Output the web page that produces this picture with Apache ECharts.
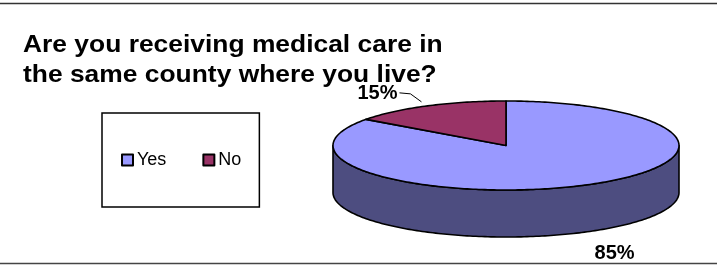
<!DOCTYPE html>
<html>
<head>
<meta charset="utf-8">
<script src="https://cdn.jsdelivr.net/npm/echarts@6/dist/echarts.min.js"></script>
<style>
  html, body { margin: 0; padding: 0; background: #fff; }
  #main { width: 717px; height: 265px; }
</style>
</head>
<body>
<div id="main"></div>
<script>
// data
var categories = ['Yes', 'No'];
var shares = [85, 15];
var topColors = ['#9999FF', '#993366'];
var sideColors = ['#4D4D80', '#4D1A33'];
var titleLines = ['Are you receiving medical care in', 'the same county where you live?'];

// 3d pie layout (flattened ellipse, excel style)
var CX = 506, CY = 145.5, RX = 173, RY = 44.5, DEPTH = 47;

var total = shares.reduce(function (a, b) { return a + b; }, 0);
var starts = [];
var acc = 0;
shares.forEach(function (v) {
  starts.push(acc / total * 360);
  acc += v;
});

function pt(theta, dy) {
  var r = theta * Math.PI / 180;
  return [CX + RX * Math.sin(r), CY - RY * Math.cos(r) + (dy || 0)];
}

function arc(a, b, dy) {
  var pts = [];
  var n = Math.max(2, Math.ceil(Math.abs(b - a)) + 1);
  for (var k = 0; k < n; k++) {
    pts.push(pt(a + (b - a) * k / (n - 1), dy));
  }
  return pts;
}

function sliceRange(i) {
  var a = starts[i];
  var b = a + shares[i] / total * 360;
  return [a, b];
}

var myChart = echarts.init(document.getElementById('main'), null, { renderer: 'canvas' });

var option = {
  backgroundColor: '#fff',
  animation: false,
  color: topColors,
  legend: {
    data: categories,
    orient: 'horizontal',
    left: 102,
    top: 113,
    padding: [38, 18, 38, 19],
    itemGap: 36,
    itemWidth: 11,
    itemHeight: 11,
    icon: 'rect',
    borderColor: '#000',
    borderWidth: 1.5,
    backgroundColor: '#fff',
    itemStyle: { borderColor: '#000', borderWidth: 2 },
    textStyle: { fontFamily: 'Liberation Sans, Arial', fontSize: 18, color: '#000', padding: [0, 0, 0, -1] }
  },
  graphic: [
    { type: 'line', shape: { x1: 0, y1: 3.5, x2: 717, y2: 3.5 }, style: { stroke: '#333', lineWidth: 1.5 } },
    { type: 'line', shape: { x1: 0, y1: 263.5, x2: 717, y2: 263.5 }, style: { stroke: '#444', lineWidth: 1.5 } },
    {
      // title, a little wider than the plain font like the original
      type: 'text',
      x: 23,
      y: 30,
      scaleX: 1.1,
      style: {
        text: titleLines.join('\n'),
        fontFamily: 'Liberation Sans, Arial',
        fontSize: 24,
        fontWeight: 'bold',
        lineHeight: 30,
        fill: '#000',
        verticalAlign: 'top'
      }
    }
  ],
  series: [
    {
      // only feeds the legend
      type: 'pie',
      name: 'legend',
      radius: [0, 0],
      center: [-50, -50],
      silent: true,
      label: { show: false },
      labelLine: { show: false },
      data: categories.map(function (c, i) { return { name: c, value: shares[i] }; })
    },
    {
      // front walls
      type: 'custom',
      name: 'side',
      coordinateSystem: 'none',
      silent: true,
      data: shares.map(function (v, i) { return [i, v]; }),
      renderItem: function (params, api) {
        var i = params.dataIndex;
        var r = sliceRange(i);
        var a = Math.max(r[0], 90), b = Math.min(r[1], 270);
        if (b <= a) return { type: 'group', children: [] };
        var pts = arc(a, b, 0).concat(arc(b, a, DEPTH));
        return {
          type: 'polygon',
          shape: { points: pts },
          style: { fill: sideColors[i], stroke: '#000', lineWidth: 1.6, lineJoin: 'round' }
        };
      }
    },
    {
      // top faces and labels
      type: 'custom',
      name: 'top',
      coordinateSystem: 'none',
      silent: true,
      data: shares.map(function (v, i) { return [i, v]; }),
      renderItem: function (params, api) {
        var i = params.dataIndex;
        var r = sliceRange(i);
        var pts = [[CX, CY]].concat(arc(r[0], r[1], 0));
        var children = [{
          type: 'polygon',
          shape: { points: pts },
          style: { fill: topColors[i], stroke: '#000', lineWidth: 1.6, lineJoin: 'round' }
        }];
        var mid = (r[0] + r[1]) / 2;
        var p = pt(mid, 0);
        var txt = Math.round(api.value(1) / total * 100) + '%';
        var font = { fontFamily: 'Liberation Sans, Arial', fontSize: 20, fontWeight: 'bold', fill: '#000' };
        if (mid > 90 && mid < 270) {
          children.push({
            type: 'text',
            style: Object.assign({ text: txt, x: p[0] + 10, y: p[1] + DEPTH + 21, align: 'left', verticalAlign: 'middle' }, font)
          });
        } else {
          var ex = p[0] - 6, ey = p[1] - 4;
          children.push({
            type: 'polyline',
            shape: { points: [[ex, ey], [ex - 11, ey - 8], [ex - 22, ey - 9]] },
            style: { stroke: '#000', lineWidth: 1, fill: null }
          });
          children.push({
            type: 'text',
            style: Object.assign({ text: txt, x: ex - 24, y: ey - 8, align: 'right', verticalAlign: 'middle' }, font)
          });
        }
        return { type: 'group', children: children };
      }
    }
  ]
};

myChart.setOption(option);
</script>
</body>
</html>
